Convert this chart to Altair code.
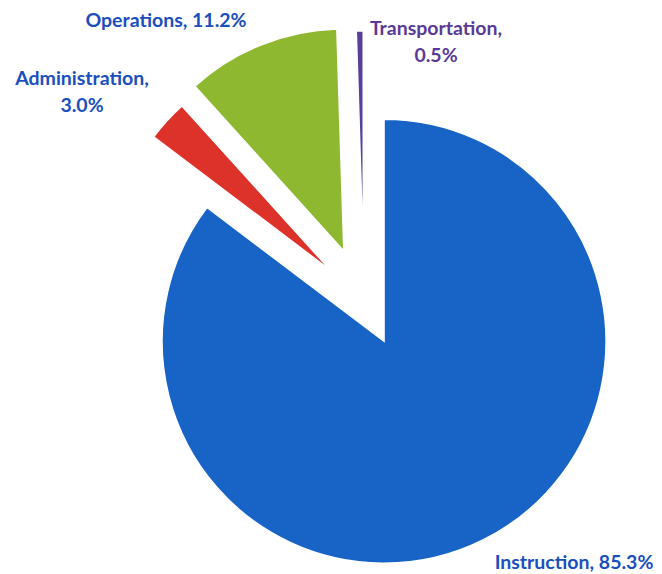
import altair as alt
import pandas as pd

categories = ["Instruction", "Administration", "Operations", "Transportation"]
shares = [85.3, 3.0, 11.2, 0.5]
labels = ["Instruction, 85.3%", "Administration,\n3.0%", "Operations, 11.2%", "Transportation,\n0.5%"]

slice_colors = ["#1763c6", "#dc3229", "#8db830", "#56409c"]
label_colors = ["#1a4fbd", "#1a4fbd", "#1a4fbd", "#5a3a98"]

df = pd.DataFrame({"category": categories, "share": shares, "label": labels,
                   "order": list(range(len(categories)))})

CX, CY, R = 356, 293, 222
explode_expr = "datum.category == 'Operations' ? 54 : (datum.category == 'Transportation' ? 48 : 45)"

base = alt.Chart(df).transform_window(
    cum="sum(share)", sort=[alt.SortField("order")], frame=[None, 0]
).transform_joinaggregate(
    total="sum(share)"
).transform_calculate(
    start="(datum.cum - datum.share) / datum.total * 2 * PI",
    end="datum.cum / datum.total * 2 * PI",
).transform_calculate(
    mid="(datum.start + datum.end) / 2",
    ex=explode_expr,
).transform_calculate(
    cx=f"{CX} + datum.ex * sin(datum.mid)",
    cy=f"{CY} - datum.ex * cos(datum.mid)",
)

pie = base.mark_arc(outerRadius=R, stroke="white", strokeWidth=1.5).encode(
    theta=alt.Theta("start:Q", scale=None),
    theta2="end:Q",
    x=alt.X("cx:Q", scale=None, axis=None),
    y=alt.Y("cy:Q", scale=None, axis=None),
    color=alt.Color("category:N", scale=alt.Scale(domain=categories, range=slice_colors), legend=None),
)

label_pos = {
    "Instruction": (566, 555),
    "Administration": (74, 71),
    "Operations": (158, 13),
    "Transportation": (428, 21),
}

layers = [pie]
for cat, col in zip(categories, label_colors):
    lx, ly = label_pos[cat]
    layers.append(
        alt.Chart(df).transform_filter(alt.datum.category == cat).mark_text(
            font="Lato", fontWeight="bold", fontSize=19.5, align="center", baseline="middle",
            lineBreak="\n", lineHeight=27, color=col
        ).encode(text="label:N", x=alt.value(lx), y=alt.value(ly))
    )

chart = alt.layer(*layers).properties(
    width=646, height=566, padding=0, autosize="none"
).configure_view(stroke=None)

chart.save("out.html", embed_options={"renderer": "svg", "actions": False})
